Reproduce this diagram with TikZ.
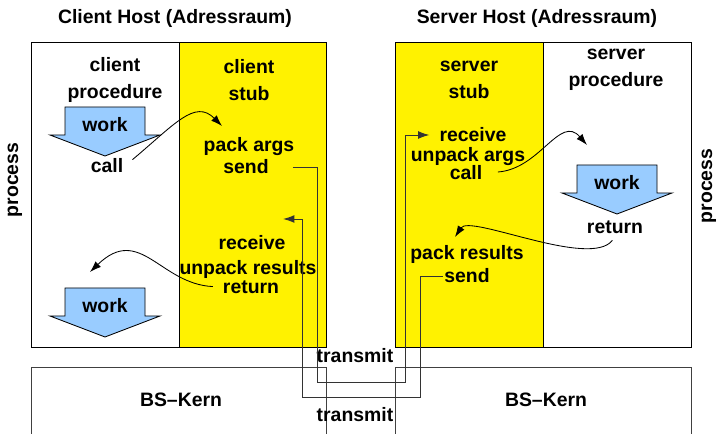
\documentclass[tikz,border=0pt]{standalone}
\usepackage{fontspec}
\setmainfont{Liberation Sans}
\usetikzlibrary{arrows.meta}
\definecolor{workblue}{RGB}{153,204,255}
\tikzset{
  lbl/.style={font=\fontsize{13.8}{17}\selectfont\bfseries, inner sep=1pt, text height=2ex, text depth=.25ex},
  head/.style={font=\fontsize{13.8}{19.5}\selectfont\bfseries, inner sep=1pt, align=center},
  stubarea/.style={fill=yellow, draw=black, line width=0.7pt},
  hostbox/.style={draw=black, line width=0.7pt},
  kernbox/.style={draw=black!75, line width=0.7pt},
  workarr/.style={fill=workblue, draw=black, line width=0.6pt},
  flow/.style={line width=0.6pt, -{Latex[length=8pt,width=5.5pt]}},
  msg/.style={draw=black!80, line width=0.7pt, -{Latex[length=8pt,width=5.5pt]}}
}
\begin{document}
\begin{tikzpicture}[x=0.025cm,y=0.025cm]
\fill[white] (0,0) rectangle (719,434);
\useasboundingbox (0,0) rectangle (719,434);

% hosts
\draw[hostbox] (31,87) rectangle (326,392);
\draw[stubarea] (179,87) rectangle (326,392);
\draw[hostbox] (395,87) rectangle (691,392);
\draw[stubarea] (395,87) rectangle (543,392);

% kernel
\draw[kernbox] (31,0) -- (31,67) -- (326,67) -- (326,0);
\draw[kernbox] (395,0) -- (395,67) -- (691,67) -- (691,0);

\node[head] (chost) at (175,416) {Client Host (Adressraum)};
\node[head] (shost) at (537,416) {Server Host (Adressraum)};
\node[head, rotate=90] (cproc) at (15,254) {process};
\node[head, rotate=90] (sproc) at (709,248) {process};

\node[head] (cprocedure) at (115,354) {client\\procedure};
\node[head] (cstub) at (249,354) {client\\stub};
\node[head] (sstub) at (469,354) {server\\stub};
\node[head] (sprocedure) at (616,364) {server\\procedure};

% work arrows
\foreach \cx/\ty/\nm in {105/327/cworkA, 105/146/cworkB, 617/269/swork} {
  \filldraw[workarr] (\cx-40,\ty) -- (\cx+40,\ty) -- (\cx+40,\ty-28) -- (\cx+55,\ty-28)
    -- (\cx,\ty-49) -- (\cx-55,\ty-28) -- (\cx-40,\ty-28) -- cycle;
  \node[lbl] (\nm) at (\cx,\ty-18) {work};
}

% client side
\node[lbl] (ccall) at (107,268) {call};
\node[lbl] (cpack) at (249,289) {pack args};
\node[lbl] (csend) at (246,267) {send};
\node[lbl] (crecv) at (252,191) {receive};
\node[lbl] (cunpack) at (248,166) {unpack results};
\node[lbl] (creturn) at (251,147) {return};

% server side
\node[lbl] (srecv) at (473,299) {receive};
\node[lbl] (sunpack) at (468,279) {unpack args};
\node[lbl] (scall) at (466,261) {call};
\node[lbl] (sreturn) at (615,207) {return};
\node[lbl] (spack) at (467,181) {pack results};
\node[lbl] (ssend) at (467,158) {send};

\node[lbl] (ckern) at (181,34) {BS--Kern};
\node[lbl] (skern) at (546,34) {BS--Kern};
\node[lbl] (transA) at (355,78) {transmit};
\node[lbl] (transB) at (355,19) {transmit};

\coordinate (cpackin) at (222,308);
\coordinate (cworkin) at (90,162);
\coordinate (sworkin) at (587,289);
\coordinate (spackin) at (455,197);
\coordinate (crecvin) at (283,215);

% control flow
\draw[flow, shorten <=7pt] (ccall.east) .. controls (175,310) and (195,335) .. (cpackin);
\draw[flow, shorten <=6pt] (creturn.west) .. controls (160,150) and (140,210) .. (cworkin);
\draw[flow, shorten <=10pt] (scall.east) .. controls (540,265) and (560,320) .. (sworkin);
\draw[flow, shorten <=3pt] (sreturn.south) .. controls (590,165) and (470,220) .. (spackin);

% messages
\draw[msg, shorten <=16pt, shorten >=6pt] (csend.east) -| (317,52) -- (405,52) |- (srecv.west);
\draw[msg] (ssend.west) -| (420,37) -- (302,37) |- (crecvin);
\end{tikzpicture}
\end{document}
